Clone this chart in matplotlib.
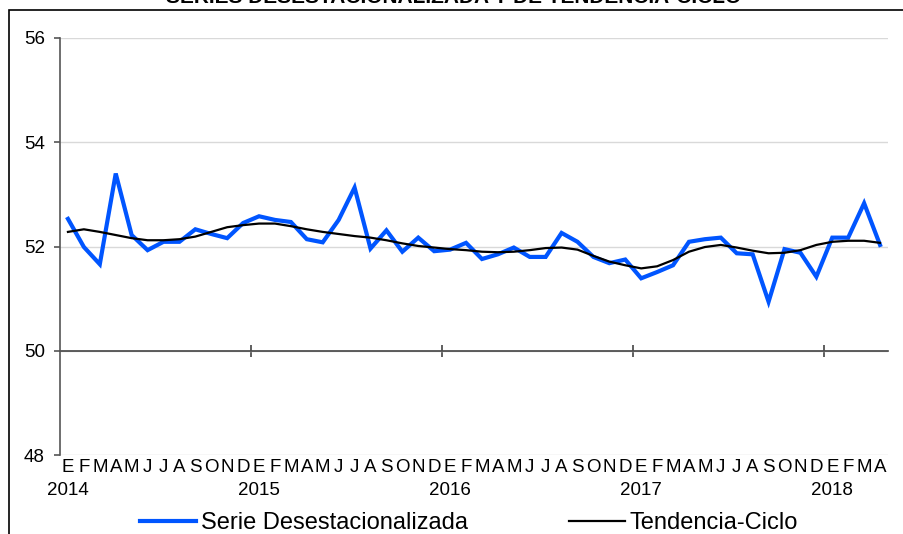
import numpy as np
import matplotlib.pyplot as plt
from matplotlib.patches import Rectangle
from matplotlib.transforms import blended_transform_factory

plt.rcParams['font.family'] = ['Liberation Sans', 'DejaVu Sans']

# monthly data Jan 2014 - Apr 2018
MESES = ["E", "F", "M", "A", "M", "J", "J", "A", "S", "O", "N", "D"]
ANIOS = [2014, 2015, 2016, 2017, 2018]
N_MESES = 52

serie_desest = [52.53, 51.99, 51.66, 53.40, 52.22, 51.93, 52.09, 52.09, 52.33, 52.24, 52.16, 52.45,
                52.58, 52.51, 52.47, 52.14, 52.08, 52.51, 53.13, 51.96, 52.31, 51.90, 52.17, 51.91,
                51.94, 52.07, 51.76, 51.85, 51.98, 51.80, 51.80, 52.26, 52.09, 51.80, 51.68, 51.75,
                51.39, 51.51, 51.64, 52.09, 52.14, 52.17, 51.87, 51.85, 50.94, 51.95, 51.88, 51.42,
                52.17, 52.17, 52.83, 52.03]

tendencia_ciclo = [52.28, 52.33, 52.28, 52.22, 52.16, 52.12, 52.12, 52.14, 52.19, 52.28, 52.37, 52.41,
                   52.44, 52.44, 52.39, 52.33, 52.28, 52.24, 52.20, 52.17, 52.12, 52.06, 52.01, 51.98,
                   51.95, 51.93, 51.90, 51.89, 51.90, 51.93, 51.97, 51.98, 51.94, 51.82, 51.71, 51.64,
                   51.58, 51.62, 51.74, 51.90, 51.99, 52.03, 51.98, 51.92, 51.87, 51.88, 51.93, 52.03,
                   52.09, 52.11, 52.11, 52.07]

x = np.arange(N_MESES)

fig = plt.figure(figsize=(9.04, 5.34), dpi=100)
ax = fig.add_axes([60 / 904, 79 / 534, 828 / 904, 417 / 534])

# outer frame (partly clipped like the original)
fig.patches.append(Rectangle((9 / 904, -0.1), 1.2, 0.1 + 524 / 534, transform=fig.transFigure,
                             fill=False, edgecolor='black', linewidth=1.2))

ax.plot(x, serie_desest, color='#0055ff', linewidth=3.0, label='Serie Desestacionalizada',
        solid_joinstyle='miter', zorder=3)
ax.plot(x, tendencia_ciclo, color='black', linewidth=1.6, label='Tendencia-Ciclo', zorder=4)

ax.set_xlim(-0.5, N_MESES - 0.5)
ax.set_ylim(48, 56)
ax.set_yticks([48, 50, 52, 54, 56])
ax.yaxis.grid(True, color='#d9d9d9', linewidth=1.0)
ax.set_axisbelow(True)

for s in ['top', 'right']:
    ax.spines[s].set_visible(False)
ax.spines['left'].set_color('#555555')
ax.spines['left'].set_linewidth(1.2)
ax.spines['bottom'].set_position(('data', 50))
ax.spines['bottom'].set_color('#444444')
ax.spines['bottom'].set_linewidth(1.2)
ax.spines['bottom'].set_zorder(2)

ax.set_xticks([11.5, 23.5, 35.5, 47.5])
ax.tick_params(axis='x', direction='inout', length=8, width=1.2, color='#444444', labelbottom=False)
ax.tick_params(axis='y', direction='out', length=4, width=1.2, color='#555555', pad=7, labelsize=13.5)

trans = blended_transform_factory(ax.transData, ax.transAxes)
for i in range(N_MESES):
    ax.text(x[i], -0.031, MESES[i % 12], transform=trans, ha='center', va='center', fontsize=13.5)
for k, anio in enumerate(ANIOS):
    ax.text(k * 12, -0.086, str(anio), transform=trans, ha='center', va='center', fontsize=13.5)

fig.text(0.502, 534 / 534 - 7 / 534, "SERIES DESESTACIONALIZADA Y DE TENDENCIA-CICLO",
         ha='center', va='bottom', fontsize=15, fontweight='bold')

ax.legend(loc='center', bbox_to_anchor=(469 / 904, 11 / 534), bbox_transform=fig.transFigure, ncol=2,
          frameon=False, fontsize=17, handlelength=2.35, columnspacing=4.3, handletextpad=0.2)

fig.savefig('out.png', dpi=100)
